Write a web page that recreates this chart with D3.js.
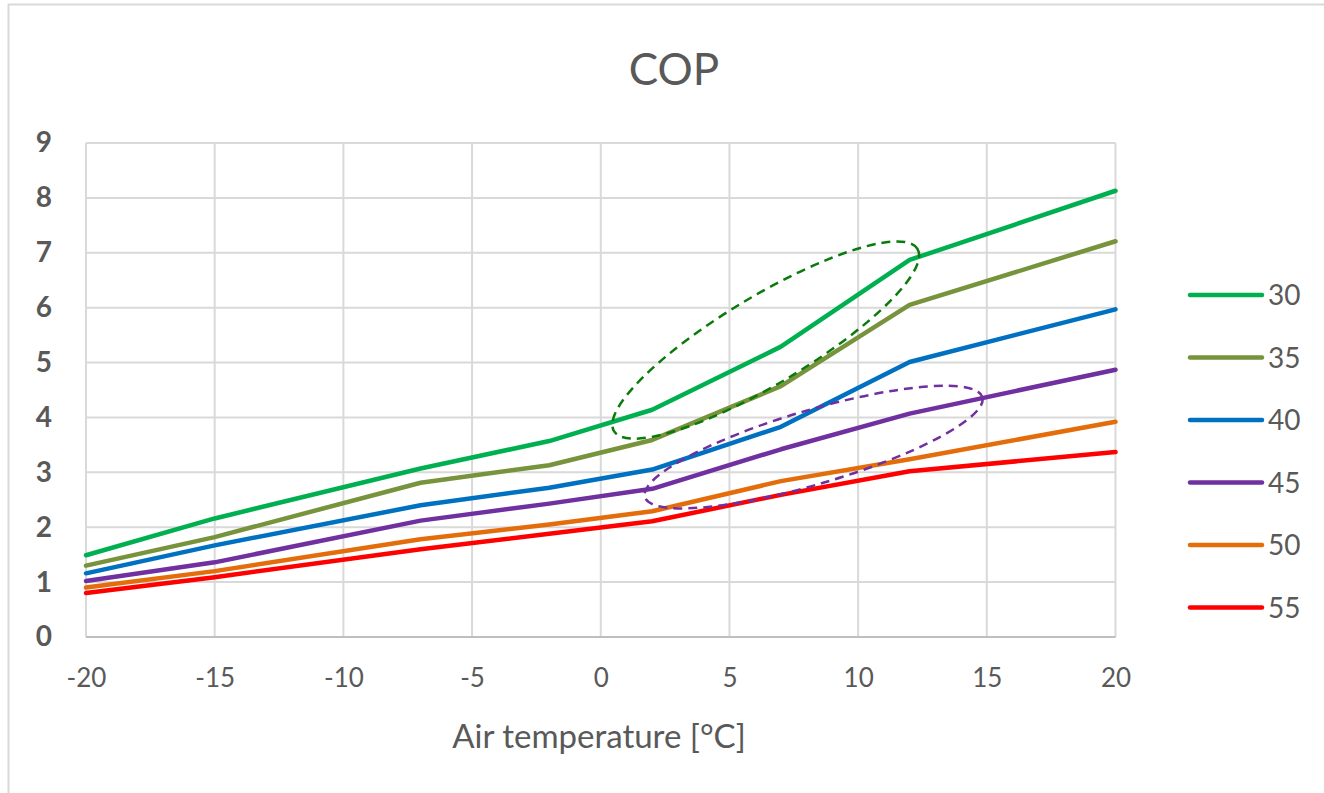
<!DOCTYPE html>
<html>
<head>
<meta charset="utf-8">
<script src="https://cdn.jsdelivr.net/npm/d3@7"></script>
<style>
  html, body { margin: 0; padding: 0; background: #fff; }
  svg { display: block; }
  text { font-family: Lato, "Open Sans", sans-serif; fill: #595959; }
</style>
</head>
<body>
<svg id="chart" width="1324" height="793"></svg>
<script>
// ---- data ----
const temps = [-20, -15, -7, -2, 2, 7, 12, 20];
const seriesNames = ["30", "35", "40", "45", "50", "55"];
const cop30 = [1.49, 2.16, 3.07, 3.57, 4.14, 5.29, 6.87, 8.13];
const cop35 = [1.30, 1.82, 2.81, 3.13, 3.59, 4.57, 6.05, 7.21];
const cop40 = [1.16, 1.67, 2.40, 2.72, 3.05, 3.83, 5.01, 5.97];
const cop45 = [1.02, 1.36, 2.12, 2.43, 2.70, 3.42, 4.07, 4.87];
const cop50 = [0.90, 1.20, 1.78, 2.05, 2.29, 2.84, 3.24, 3.92];
const cop55 = [0.80, 1.09, 1.60, 1.88, 2.11, 2.59, 3.02, 3.37];
const seriesColors = ["#00b050", "#77933c", "#0070c0", "#7030a0", "#e46c0a", "#ff0000"];
const xTicks = [-20, -15, -10, -5, 0, 5, 10, 15, 20];
const xTickLabels = ["-20", "-15", "-10", "-5", "0", "5", "10", "15", "20"];
const yTicks = [0, 1, 2, 3, 4, 5, 6, 7, 8, 9];
// annotation ellipses (centre in data units)
const ellipseCentresX = [6.41, 8.27];
const ellipseCentresY = [5.41, 3.46];
const ellipseColors = ["#0a7a0a", "#7030a0"];

const seriesValues = [cop30, cop35, cop40, cop45, cop50, cop55];

const svg = d3.select("#chart");
const pL = 86, pR = 1115.5, pT = 143, pB = 637;

const x = d3.scaleLinear().domain([-20, 20]).range([pL, pR]);
const y = d3.scaleLinear().domain([0, 9]).range([pB, pT]);

// outer chart border (only left and top edges are visible)
svg.append("path").attr("d", "M8.5,800 V4.5 H1330")
  .attr("fill", "none").attr("stroke", "#d9d9d9").attr("stroke-width", 2);

// gridlines
const g = svg.append("g");
g.selectAll(".hg").data(yTicks).join("line")
  .attr("x1", pL).attr("x2", pR)
  .attr("y1", d => y(d)).attr("y2", d => y(d))
  .attr("stroke", "#d9d9d9").attr("stroke-width", 2);
g.selectAll(".vg").data(xTicks).join("line")
  .attr("y1", pT).attr("y2", pB)
  .attr("x1", d => x(d)).attr("x2", d => x(d))
  .attr("stroke", "#d9d9d9").attr("stroke-width", 2);
// bottom axis line
svg.append("line").attr("x1", pL).attr("x2", pR).attr("y1", pB).attr("y2", pB)
  .attr("stroke", "#bfbfbf").attr("stroke-width", 2);

// axes labels via d3 axes
const xAxis = svg.append("g").attr("transform", `translate(0,${pB})`)
  .call(d3.axisBottom(x).tickValues(xTicks).tickSize(0).tickPadding(32)
    .tickFormat((d, i) => xTickLabels[i]));
xAxis.select(".domain").remove();
xAxis.selectAll("text").style("font-size", "26px").attr("fill", "#595959")
  .style("font-family", "Lato, 'Open Sans', sans-serif");

const yAxis = svg.append("g").attr("transform", `translate(${pL},0)`)
  .call(d3.axisLeft(y).tickValues(yTicks).tickSize(0).tickPadding(34).tickFormat(d => String(d)));
yAxis.select(".domain").remove();
yAxis.selectAll("text").style("font-size", "28px").style("font-weight", "bold").attr("fill", "#595959")
  .style("font-family", "Lato, 'Open Sans', sans-serif");

// lines
const line = d3.line().x((d, i) => x(temps[i])).y(d => y(d));
svg.append("g").selectAll("path").data(seriesValues).join("path")
  .attr("d", d => line(d))
  .attr("fill", "none")
  .attr("stroke", (d, i) => seriesColors[i])
  .attr("stroke-width", 4.5)
  .attr("stroke-linejoin", "round")
  .attr("stroke-linecap", "round");

// annotation ellipses
const ellRx = [177, 176], ellRy = [44, 37], ellRot = [-31, -16.5];
svg.append("g").selectAll("ellipse").data(ellipseCentresX).join("ellipse")
  .attr("cx", 0).attr("cy", 0)
  .attr("rx", (d, i) => ellRx[i]).attr("ry", (d, i) => ellRy[i])
  .attr("transform", (d, i) => `translate(${x(d)},${y(ellipseCentresY[i])}) rotate(${ellRot[i]})`)
  .attr("fill", "none")
  .attr("stroke", (d, i) => ellipseColors[i])
  .attr("stroke-width", 2.5)
  .attr("stroke-dasharray", "9,6");

// title
svg.append("text").attr("x", 674).attr("y", 85).attr("text-anchor", "middle")
  .style("font-size", "44px").text("COP");

// x axis title
svg.append("text").attr("x", 599).attr("y", 748).attr("text-anchor", "middle")
  .style("font-size", "33px").text("Air temperature [°C]");

// legend
const lg = svg.append("g");
const rowY = d3.scaleLinear().domain([0, 5]).range([295, 607.5]);
seriesNames.forEach((name, i) => {
  lg.append("line").attr("x1", 1190).attr("x2", 1262)
    .attr("y1", rowY(i)).attr("y2", rowY(i))
    .attr("stroke", seriesColors[i]).attr("stroke-width", 4.5).attr("stroke-linecap", "round");
  lg.append("text").attr("x", 1268).attr("y", rowY(i) + 10)
    .style("font-size", "28px").text(name);
});
</script>
</body>
</html>
